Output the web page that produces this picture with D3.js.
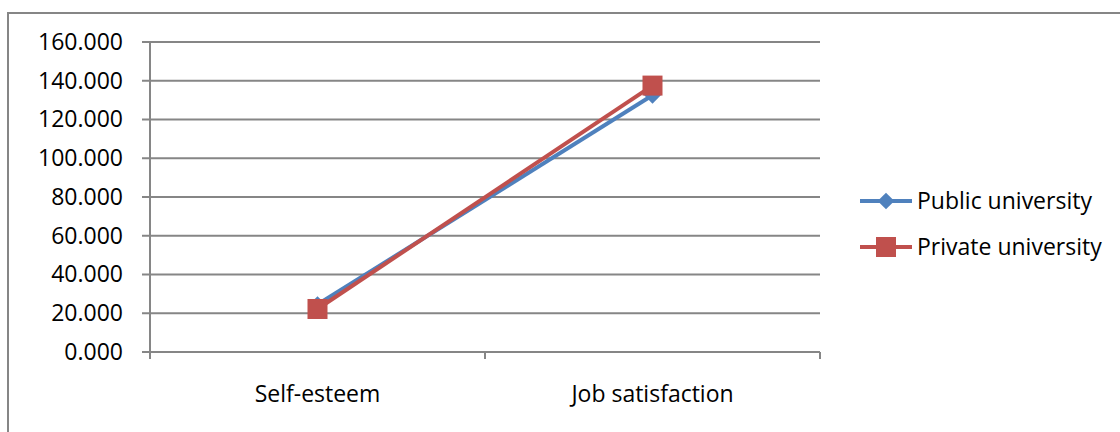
<!DOCTYPE html>
<html>
<head>
    <meta charset="UTF-8" />
    <title>Self-esteem and Job satisfaction</title>
    <script src="https://d3js.org/d3.v7.min.js"></script>
    <style>
        body { margin: 0; background: white; }
        text { font-family: "Open Sans", "Noto Sans", sans-serif; fill: black; }
        .grid line { stroke: #868686; stroke-width: 2; }
    </style>
</head>
<body>
<svg width="1120" height="432"></svg>
<script>
    // data
    var categories = ["Self-esteem", "Job satisfaction"];
    var seriesNames = ["Public university", "Private university"];
    var publicValues = [24.5, 132.5];
    var privateValues = [22.2, 137.5];
    var yTicks = [0, 20, 40, 60, 80, 100, 120, 140, 160];

    var colors = ["#4F81BD", "#C0504D"];
    var fontSize = "23px";
    var svg = d3.select("svg");

    // outer frame (left and top edges only are visible)
    svg.append("path")
        .attr("d", "M8,432 V13 H1120")
        .attr("fill", "none")
        .attr("stroke", "#868686")
        .attr("stroke-width", 2);

    var plotLeft = 150, plotRight = 820, plotTop = 42, plotBottom = 352;
    var x = d3.scaleBand().domain(categories).range([plotLeft, plotRight]);
    var y = d3.scaleLinear().domain([0, 160]).range([plotBottom, plotTop]);

    // gridlines
    svg.append("g").attr("class", "grid")
        .selectAll("line").data(yTicks).enter().append("line")
        .attr("x1", plotLeft - 8).attr("x2", plotRight)
        .attr("y1", d => y(d)).attr("y2", d => y(d));

    // y axis
    var yAxis = svg.append("g").attr("transform", "translate(" + plotLeft + ",0)")
        .call(d3.axisLeft(y).tickValues(yTicks).tickFormat(d3.format(".3f")).tickSize(8).tickPadding(19));
    yAxis.select(".domain").attr("stroke", "#868686").attr("stroke-width", 2)
        .attr("d", "M0," + plotTop + "V" + (plotBottom + 6));
    yAxis.selectAll(".tick line").remove();
    yAxis.selectAll(".tick text")
        .style("font-size", fontSize).attr("fill", "black");
    yAxis.attr("font-family", null).attr("font-size", null);

    // x axis
    var xAxis = svg.append("g").attr("transform", "translate(0," + plotBottom + ")");
    xAxis.append("line").attr("x1", plotLeft).attr("x2", plotRight)
        .attr("stroke", "#868686").attr("stroke-width", 2);
    xAxis.selectAll(".xt").data([plotLeft].concat(categories.map(c => x(c) + x.bandwidth())))
        .enter().append("line")
        .attr("x1", d => d).attr("x2", d => d).attr("y1", 0).attr("y2", 7)
        .attr("stroke", "#868686").attr("stroke-width", 2);
    xAxis.selectAll("text").data(categories).enter().append("text")
        .attr("x", d => x(d) + x.bandwidth() / 2)
        .attr("y", 50)
        .attr("text-anchor", "middle")
        .style("font-size", fontSize)
        .text(d => d);

    var line = d3.line()
        .x((d, i) => x(categories[i]) + x.bandwidth() / 2)
        .y(d => y(d));

    var allSeries = [publicValues, privateValues];

    allSeries.forEach(function (vals, s) {
        svg.append("path")
            .attr("d", line(vals))
            .attr("fill", "none")
            .attr("stroke", colors[s])
            .attr("stroke-width", 4);
    });

    function marker(g, s, cx, cy) {
        if (s === 0) {
            g.append("path")
                .attr("d", d3.symbol().type(d3.symbolSquare).size(140)())
                .attr("transform", "translate(" + cx + "," + cy + ") rotate(45)")
                .attr("fill", colors[s]);
        } else {
            g.append("rect")
                .attr("x", cx - 10).attr("y", cy - 10)
                .attr("width", 20).attr("height", 20)
                .attr("fill", colors[s]);
        }
    }

    allSeries.forEach(function (vals, s) {
        vals.forEach(function (v, i) {
            marker(svg, s, x(categories[i]) + x.bandwidth() / 2, y(v));
        });
    });

    // legend
    var legend = svg.append("g");
    seriesNames.forEach(function (name, s) {
        var ly = 201 + s * 46;
        legend.append("line")
            .attr("x1", 860).attr("x2", 912).attr("y1", ly).attr("y2", ly)
            .attr("stroke", colors[s]).attr("stroke-width", 4);
        marker(legend, s, 886, ly);
        legend.append("text")
            .attr("x", 917).attr("y", ly + 8)
            .style("font-size", fontSize)
            .text(name);
    });
</script>
</body>
</html>
